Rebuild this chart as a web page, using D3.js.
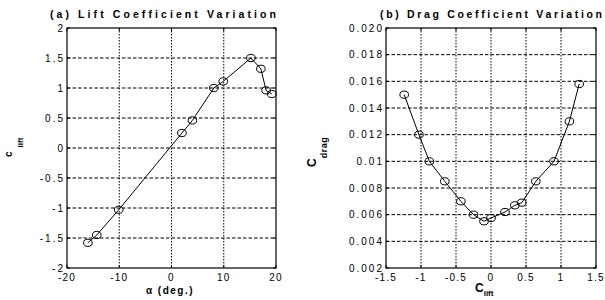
<!DOCTYPE html>
<html>
<head>
<meta charset="utf-8">
<script src="https://cdn.jsdelivr.net/npm/d3@7"></script>
<style>
  body { margin: 0; background: #fff; }
  svg { display: block; }
  text { font-family: "Liberation Sans", Arial, sans-serif; fill: #000; }
  .tick-label { font-size: 10px; letter-spacing: 2px; }
  .xtick { letter-spacing: 1.2px; }
  .title { font-size: 10.5px; font-weight: bold; }
</style>
</head>
<body>
<svg id="chart" width="605" height="300"></svg>
<script>
// (a) lift coefficient vs angle of attack
const alphaDeg = [-16, -14.3, -10.1, 2, 4, 8.1, 9.9, 15.2, 17.1, 18.1, 19.2];
const cLift    = [-1.58, -1.45, -1.03, 0.25, 0.46, 1.0, 1.11, 1.5, 1.32, 0.96, 0.9];

// (b) drag coefficient vs lift coefficient
const cLiftPolar = [-1.24, -1.03, -0.88, -0.66, -0.43, -0.25, -0.1, 0, 0.2, 0.34, 0.44, 0.64, 0.9, 1.12, 1.26];
const cDrag      = [0.015, 0.012, 0.010, 0.0085, 0.007, 0.006, 0.0055, 0.00575, 0.0062, 0.0067, 0.0069, 0.0085, 0.010, 0.013, 0.0158];

const alphaTicks = [-20, -10, 0, 10, 20];
const alphaTickLabels = ['-20', '-10', '0', '10', '20'];
const liftTicks = [-2, -1.5, -1, -0.5, 0, 0.5, 1, 1.5, 2];
const liftTickLabels = ['-2', '-1.5', '-1', '-0.5', '0', '0.5', '1', '1.5', '2'];
const polarTicks = [-1.5, -1, -0.5, 0, 0.5, 1, 1.5];
const polarTickLabels = ['-1.5', '-1', '-0.5', '0', '0.5', '1', '1.5'];
const dragTicks = [0.002, 0.004, 0.006, 0.008, 0.010, 0.012, 0.014, 0.016, 0.018, 0.020];
const dragTickLabels = ['0.002', '0.004', '0.006', '0.008', '0.01', '0.012', '0.014', '0.016', '0.018', '0.020'];

const svg = d3.select('#chart');

function drawPanel(opt) {
  const x = d3.scaleLinear().domain(opt.xDomain).range([opt.left, opt.right]);
  const y = d3.scaleLinear().domain(opt.yDomain).range([opt.bottom, opt.top]);
  const g = svg.append('g');

  // dotted grid, matlab style
  g.selectAll('.vgrid').data(opt.xTicks.slice(1, -1)).enter()
    .append('line')
      .attr('x1', d => x(d)).attr('x2', d => x(d))
      .attr('y1', opt.top).attr('y2', opt.bottom)
      .attr('stroke', '#000').attr('stroke-width', 1)
      .attr('stroke-dasharray', '1.5,1.5');
  g.selectAll('.hgrid').data(opt.yTicks.slice(1, -1)).enter()
    .append('line')
      .attr('y1', d => y(d)).attr('y2', d => y(d))
      .attr('x1', opt.left).attr('x2', opt.right)
      .attr('stroke', '#000').attr('stroke-width', 1)
      .attr('stroke-dasharray', '3.5,2');

  // inner ticks on every side
  const tl = 3;
  opt.xTicks.forEach(function(t) {
    g.append('line').attr('x1', x(t)).attr('x2', x(t))
      .attr('y1', opt.bottom).attr('y2', opt.bottom - tl).attr('stroke', '#000');
    g.append('line').attr('x1', x(t)).attr('x2', x(t))
      .attr('y1', opt.top).attr('y2', opt.top + tl).attr('stroke', '#000');
  });
  opt.yTicks.forEach(function(t) {
    g.append('line').attr('y1', y(t)).attr('y2', y(t))
      .attr('x1', opt.left).attr('x2', opt.left + tl).attr('stroke', '#000');
    g.append('line').attr('y1', y(t)).attr('y2', y(t))
      .attr('x1', opt.right).attr('x2', opt.right - tl).attr('stroke', '#000');
  });

  // box
  g.append('rect')
    .attr('x', opt.left).attr('y', opt.top)
    .attr('width', opt.right - opt.left).attr('height', opt.bottom - opt.top)
    .attr('fill', 'none').attr('stroke', '#000').attr('stroke-width', 1.2);

  // tick labels
  g.selectAll('.xl').data(opt.xTicks).enter()
    .append('text')
      .attr('class', 'tick-label xtick')
      .attr('x', d => x(d))
      .attr('y', opt.bottom + 13)
      .attr('text-anchor', 'middle')
      .text((d, i) => opt.xTickLabels[i]);
  g.selectAll('.yl').data(opt.yTicks).enter()
    .append('text')
      .attr('class', 'tick-label')
      .attr('x', opt.left - 2)
      .attr('y', d => y(d) + 3.5)
      .attr('text-anchor', 'end')
      .text((d, i) => opt.yTickLabels[i]);

  // title
  g.append('text')
    .attr('class', 'title')
    .attr('x', opt.titleX)
    .attr('y', 18)
    .attr('textLength', opt.titleLen)
    .attr('lengthAdjust', 'spacing')
    .text(opt.title);

  // data line + open circle markers
  const pts = opt.xs.map((d, i) => [d, opt.ys[i]]);
  g.append('path')
    .datum(pts)
    .attr('fill', 'none')
    .attr('stroke', '#000')
    .attr('stroke-width', 1)
    .attr('d', d3.line().x(d => x(d[0])).y(d => y(d[1])));
  g.selectAll('.marker').data(pts).enter()
    .append('ellipse')
      .attr('cx', d => x(d[0]))
      .attr('cy', d => y(d[1]))
      .attr('rx', 4.3).attr('ry', 3.6)
      .attr('fill', 'none')
      .attr('stroke', '#000')
      .attr('stroke-width', 1);

  return g;
}

drawPanel({
  left: 67, right: 276, top: 28, bottom: 268,
  xDomain: [-20, 20], yDomain: [-2, 2],
  xTicks: alphaTicks, xTickLabels: alphaTickLabels,
  yTicks: liftTicks, yTickLabels: liftTickLabels,
  xs: alphaDeg, ys: cLift,
  title: '(a) Lift Coefficient Variation', titleX: 50, titleLen: 226
});

drawPanel({
  left: 386, right: 596, top: 28, bottom: 268,
  xDomain: [-1.5, 1.5], yDomain: [0.002, 0.020],
  xTicks: polarTicks, xTickLabels: polarTickLabels,
  yTicks: dragTicks, yTickLabels: dragTickLabels,
  xs: cLiftPolar, ys: cDrag,
  title: '(b) Drag Coefficient Variation', titleX: 380, titleLen: 222
});

// axis labels
svg.append('text')
  .attr('x', 170).attr('y', 294)
  .attr('text-anchor', 'middle')
  .style('font-size', '10px').style('font-weight', 'bold').style('letter-spacing', '1.5px')
  .text('\u03b1 (deg.)');

const cl = svg.append('text')
  .attr('x', 475).attr('y', 292)
  .style('font-weight', 'bold');
cl.append('tspan').style('font-size', '12px').text('C');
cl.append('tspan').attr('dy', 4).style('font-size', '8px').text('lift');

const yl1 = svg.append('text')
  .attr('transform', 'translate(12,157) rotate(-90)')
  .style('font-weight', 'bold');
yl1.append('tspan').style('font-size', '10px').text('c');
yl1.append('tspan').attr('dx', 4).attr('dy', 11).style('font-size', '8px').text('lift');

const yl2 = svg.append('text')
  .attr('transform', 'translate(316,167) rotate(-90)')
  .style('font-weight', 'bold');
yl2.append('tspan').style('font-size', '12px').text('C');
yl2.append('tspan').attr('dy', 11).style('font-size', '9px').style('letter-spacing', '0.5px').text('drag');
</script>
</body>
</html>
